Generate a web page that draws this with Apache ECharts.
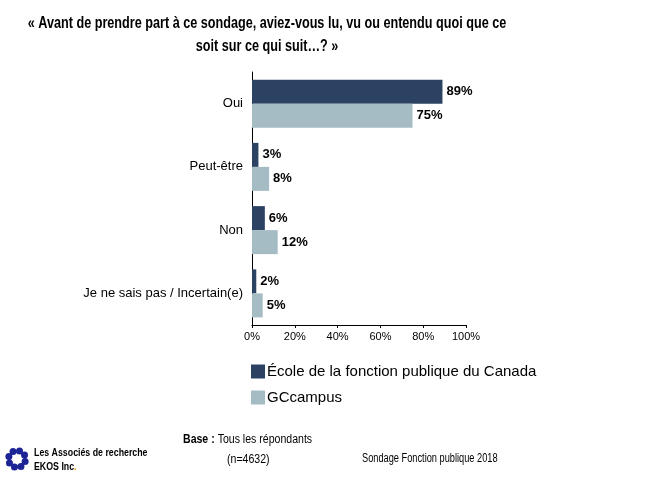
<!DOCTYPE html>
<html><head><meta charset="utf-8">
<script src="https://cdn.jsdelivr.net/npm/echarts@6/dist/echarts.min.js"></script>
<style>html,body{margin:0;padding:0;background:#fff}#c{width:650px;height:480px}</style>
</head><body><div id="c"></div>
<script>
var categories = ['Oui', 'Peut-être', 'Non', 'Je ne sais pas / Incertain(e)'];
var seriesNames = ['École de la fonction publique du Canada', 'GCcampus'];
var ecoleValues = [89, 3, 6, 2];
var gccampusValues = [75, 8, 12, 5];
var xTicks = [0, 20, 40, 60, 80, 100];

var chart = echarts.init(document.getElementById('c'), null, {renderer: 'canvas'});
var F = 'Arial, "Liberation Sans", sans-serif';

function sText(x, y, text, font, scale, align, extra) {
  var style = {text: text, font: font, fill: '#000', textAlign: align || 'left', textVerticalAlign: 'middle'};
  if (extra) { for (var k in extra) style[k] = extra[k]; }
  return {type: 'group', x: x, y: y, scaleX: scale, children: [{type: 'text', x: 0, y: 0, style: style}]};
}

var logoParts = [];
for (var i = 0; i < 8; i++) {
  var a = i * Math.PI / 4 + 0.3;
  logoParts.push({type: 'circle', shape: {cx: 17 + 8.5 * Math.cos(a), cy: 459 + 8.5 * Math.sin(a), r: 3.5}, style: {fill: '#1c2496'}});
}
logoParts.push({type: 'circle', shape: {cx: 17, cy: 459, r: 7.5}, style: {fill: 'none', stroke: '#1c2496', lineWidth: 2}});

chart.setOption({
  animation: false,
  backgroundColor: '#fff',
  grid: {left: 252, right: 184, top: 72, bottom: 155, containLabel: false},
  xAxis: {
    type: 'value', min: 0, max: 100, interval: 20,
    axisLine: {show: true, lineStyle: {color: '#000', width: 1}},
    axisTick: {show: true, length: 3, lineStyle: {color: '#000'}},
    splitLine: {show: false},
    axisLabel: {formatter: '{value}%', fontFamily: F, fontSize: 11, color: '#000', margin: 6}
  },
  yAxis: {
    type: 'category', data: categories, inverse: true,
    axisLine: {show: true, lineStyle: {color: '#000', width: 1}},
    axisTick: {show: false},
    axisLabel: {fontFamily: F, fontSize: 13, color: '#000', margin: 9}
  },
  legend: {
    orient: 'vertical', left: 246, top: 359, itemWidth: 14, itemHeight: 14, itemGap: 11,
    icon: 'rect',
    textStyle: {fontFamily: F, fontSize: 15, color: '#000', padding: [0, 0, 0, -3]},
    data: seriesNames
  },
  series: [
    {name: seriesNames[0], type: 'bar', data: ecoleValues, barWidth: 24, barGap: '0%', barCategoryGap: '24%',
     itemStyle: {color: '#2B4263'},
     label: {show: true, position: 'right', distance: 4, formatter: '{c}%', fontFamily: F, fontSize: 13, fontWeight: 'bold', color: '#000'}},
    {name: seriesNames[1], type: 'bar', data: gccampusValues, barWidth: 24,
     itemStyle: {color: '#A6BCC4'},
     label: {show: true, position: 'right', distance: 4, formatter: '{c}%', fontFamily: F, fontSize: 13, fontWeight: 'bold', color: '#000'}}
  ],
  graphic: [
    sText(267, 24, '« Avant de prendre part à ce sondage, aviez-vous lu, vu ou entendu quoi que ce', 'bold 16px ' + F, 0.79, 'center'),
    sText(267, 47, 'soit sur ce qui suit…? »', 'bold 16px ' + F, 0.79, 'center'),
    {type: 'group', children: logoParts},
    sText(34, 453, 'Les Associés de recherche', 'bold 11px ' + F, 0.8, 'left'),
    sText(34, 467, 'EKOS Inc', 'bold 11px ' + F, 0.8, 'left'),
    sText(74, 467, '.', 'bold 11px ' + F, 0.8, 'left', {fill: '#f0a000'}),
    sText(183, 440, '{b|Base :} Tous les répondants', '12px ' + F, 0.88, 'left', {rich: {b: {fontWeight: 'bold', fontSize: 12, fontFamily: F}}}),
    sText(227, 460, '(n=4632)', '12px ' + F, 0.88, 'left'),
    sText(362, 459, 'Sondage Fonction publique 2018', '12px ' + F, 0.77, 'left')
  ]
});
</script>
</body></html>
